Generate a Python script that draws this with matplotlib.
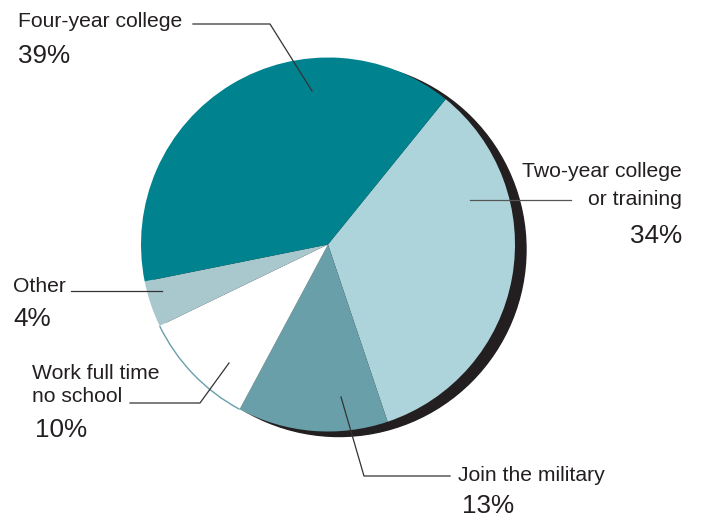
import numpy as np
import matplotlib.pyplot as plt
from matplotlib.patches import Circle, Arc

# data
labels = ["Two-year college\nor training", "Join the military", "Work full time\nno school", "Other", "Four-year college"]
values = [34, 13, 10, 4, 39]
pct_text = ["34%", "13%", "10%", "4%", "39%"]
colors = ["#aed4db", "#689fa9", "#ffffff", "#a8c8cd", "#00838f"]

W, H = 701, 517
def Y(y):
    # pixel row -> data y
    return H - y

plt.rcParams['font.family'] = ['Liberation Sans', 'DejaVu Sans']
fig = plt.figure(figsize=(W / 100, H / 100), dpi=100)
ax = fig.add_axes([0, 0, 1, 1])

cx, cy, r = 328, Y(244.5), 187
start = 51

# drop shadow
ax.add_patch(Circle((cx + 11, cy - 5), r, color="#231f20", zorder=1))

wedges, _ = ax.pie(values, colors=colors, startangle=start, counterclock=False,
                   center=(cx, cy), radius=r, frame=True,
                   wedgeprops=dict(linewidth=0, zorder=2))
ax.set_xlim(0, W)
ax.set_ylim(0, H)
ax.set_aspect('equal')
ax.axis('off')

# thin outline on the white slice's arc
w = wedges[2]
ax.add_patch(Arc((cx, cy), 2 * r, 2 * r, theta1=w.theta1, theta2=w.theta2,
                 color="#689fa9", lw=1.0, zorder=3))

txt = "#231f20"
lc = "#333333"
fs, fp = 15.2, 18.8

# Four-year college
ax.text(18, Y(27), "Four-year college", fontsize=fs, color=txt, va='baseline')
ax.text(18, Y(63), pct_text[4], fontsize=fp, color=txt, va='baseline')
ax.plot([193, 270, 312], [Y(24), Y(24), Y(91)], color=lc, lw=0.9, zorder=4)

# Two-year college
ax.text(682, Y(177), "Two-year college", fontsize=fs, color=txt, va='baseline', ha='right')
ax.text(682, Y(205), "or training", fontsize=fs, color=txt, va='baseline', ha='right')
ax.text(682, Y(243), pct_text[0], fontsize=fp, color=txt, va='baseline', ha='right')
ax.plot([470, 571], [Y(200), Y(200)], color="#555555", lw=0.9, zorder=4)

# Other
ax.text(13, Y(292), "Other", fontsize=fs, color=txt, va='baseline')
ax.text(13, Y(326), pct_text[3], fontsize=fp, color=txt, va='baseline')
ax.plot([71, 162], [Y(291), Y(291)], color=lc, lw=0.9, zorder=4)

# Work full time
ax.text(32, Y(379), "Work full time", fontsize=fs, color=txt, va='baseline')
ax.text(32, Y(402), "no school", fontsize=fs, color=txt, va='baseline')
ax.text(35, Y(437), pct_text[2], fontsize=fp, color=txt, va='baseline')
ax.plot([130, 200, 229], [Y(403), Y(403), Y(363)], color=lc, lw=0.9, zorder=4)

# Join the military
ax.text(458, Y(481), "Join the military", fontsize=fs, color=txt, va='baseline')
ax.text(462, Y(513), pct_text[1], fontsize=fp, color=txt, va='baseline')
ax.plot([341, 364, 450], [Y(397), Y(476), Y(476)], color=lc, lw=0.9, zorder=4)

fig.savefig("out.png", dpi=100)
